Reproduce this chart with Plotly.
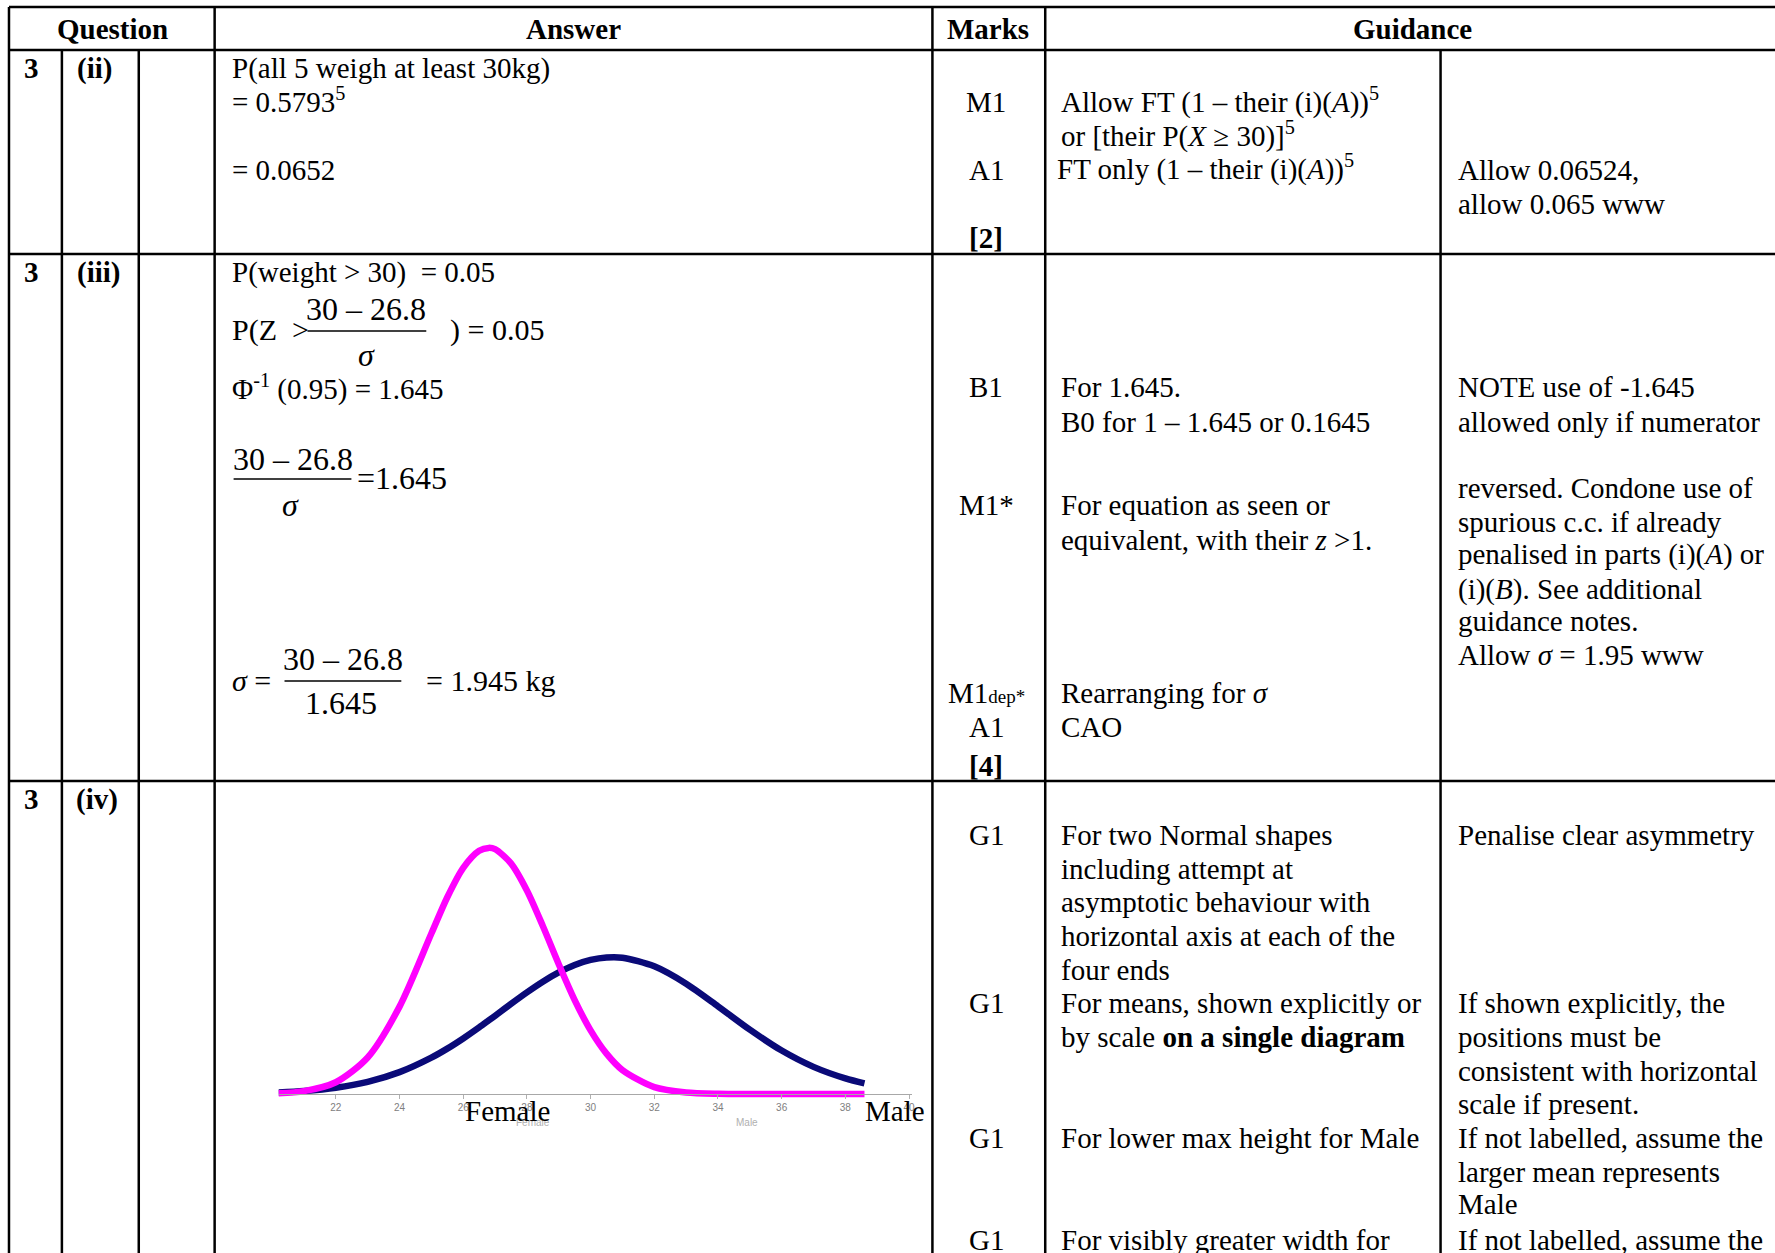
import plotly.graph_objects as go

W, H = 1775, 1253

# ---------------- data ----------------
weight_kg = [20.2, 21, 22, 23, 24, 25, 25.5, 26, 26.5, 26.8, 27, 27.5, 28, 28.5,
             29, 29.5, 30, 30.5, 31, 32, 33, 34, 35, 36, 37, 38, 38.6]
female_height = [0.0006, 0.0024, 0.0098, 0.0304, 0.0728, 0.1337, 0.1640, 0.1885,
                 0.2027, 0.2051, 0.2040, 0.1922, 0.1696, 0.1400, 0.1082, 0.0783,
                 0.0530, 0.0336, 0.0199, 0.0057, 0.0013, 0.0002, 0, 0, 0, 0, 0]
male_height = [0.0013, 0.0025, 0.0052, 0.0101, 0.0182, 0.0303, 0.0378, 0.0463,
               0.0555, 0.0613, 0.0652, 0.0751, 0.0847, 0.0936, 0.1013, 0.1075,
               0.1117, 0.1138, 0.1136, 0.1064, 0.0919, 0.0731, 0.0536, 0.0362,
               0.0226, 0.0130, 0.0089]
tick_values = [22, 24, 26, 28, 30, 32, 34, 36, 38, 40]
curve_labels = ["Female", "Male"]

FONT = "Liberation Serif"
FS = 29


def X(px):
    return px / W


def Y(py):
    return 1 - py / H


fig = go.Figure()

fig.add_trace(go.Scatter(x=weight_kg, y=male_height, mode="lines",
                         line=dict(color="#0a0a78", width=6.5, shape="spline", smoothing=0.8),
                         hoverinfo="skip", showlegend=False))
fig.add_trace(go.Scatter(x=weight_kg, y=female_height, mode="lines",
                         line=dict(color="#ff00ff", width=6.5, shape="spline", smoothing=0.8),
                         hoverinfo="skip", showlegend=False))

shapes = []


def hline(y, x0, x1, w=2.5):
    shapes.append(dict(type="line", xref="paper", yref="paper", x0=X(x0), x1=X(x1),
                       y0=Y(y), y1=Y(y), line=dict(color="black", width=w)))


def vline(x, y0, y1, w=2.5):
    shapes.append(dict(type="line", xref="paper", yref="paper", x0=X(x), x1=X(x),
                       y0=Y(y0), y1=Y(y1), line=dict(color="black", width=w)))


# table grid
for yy in (7, 50, 254, 781):
    hline(yy, 9, W + 5)
vline(9, 7, H + 5)
vline(62, 50, H + 5)
vline(139, 50, H + 5)
vline(215, 7, H + 5)
vline(934, 7, H + 5)
vline(1047, 7, H + 5)
vline(1443, 50, H + 5)

# fraction bars
hline(331, 308, 427, 1.5)
hline(479, 234, 352, 1.5)
hline(681, 285, 402, 1.5)

ann = []


def txt(x, y, s, anchor="left", size=FS, color="black"):
    ann.append(dict(x=X(x), y=Y(y), xref="paper", yref="paper", text=s, showarrow=False,
                    xanchor=anchor, yanchor="middle",
                    font=dict(family=FONT, size=size, color=color)))


# headers
txt(113, 29, "<b>Question</b>", "center")
txt(574, 29, "<b>Answer</b>", "center")
txt(990, 29, "<b>Marks</b>", "center")
txt(1415, 29, "<b>Guidance</b>", "center")

# row (ii)
txt(32, 68, "<b>3</b>", "center")
txt(95, 68, "<b>(ii)</b>", "center")
txt(230, 68, "P(all 5 weigh at least 30kg)")
txt(230, 100, "= 0.5793<sup>5</sup>")
txt(230, 170, "= 0.0652")
txt(988, 102, "M1", "center")
txt(988, 170, "A1", "center")
txt(988, 238, "<b>[2]</b>", "center")
txt(1061, 100, "Allow FT (1 – their (i)(<i>A</i>))<sup>5</sup>")
txt(1061, 134, "or [their P(<i>X</i> ≥ 30)]<sup>5</sup>")
txt(1057, 168, "FT only (1 – their (i)(<i>A</i>))<sup>5</sup>")
txt(1458, 170, "Allow 0.06524,")
txt(1458, 204, "allow 0.065 www")

# row (iii)
txt(32, 272, "<b>3</b>", "center")
txt(99, 272, "<b>(iii)</b>", "center")
txt(230, 272, "P(weight > 30)\u00a0 = 0.05")
txt(230, 330, "P(Z\u00a0 >", size=30)
txt(367, 309, "30 – 26.8", "center", size=32)
txt(367, 355, "<i>σ</i>", "center", size=32)
txt(449, 330, ") = 0.05", size=30)
txt(230, 387, "Φ<sup>-1</sup> (0.95) = 1.645")
txt(293, 459, "30 – 26.8", "center", size=32)
txt(291, 505, "<i>σ</i>", "center", size=32)
txt(356, 478, "=1.645", size=32)
txt(230, 680, "<i>σ</i> =", size=30)
txt(344, 659, "30 – 26.8", "center", size=32)
txt(342, 703, "1.645", "center", size=32)
txt(425, 680, "= 1.945 kg", size=30)
txt(988, 387, "B1", "center")
txt(988, 505, "M1*", "center")
txt(988, 693, "M1<span style='font-size:19px'>dep*</span>", "center")
txt(988, 727, "A1", "center")
txt(988, 766, "<b>[4]</b>", "center")
txt(1061, 387, "For 1.645.")
txt(1061, 422, "B0 for 1 – 1.645 or 0.1645")
txt(1061, 505, "For equation as seen or")
txt(1061, 540, "equivalent, with their <i>z</i> >1.")
txt(1061, 693, "Rearranging for <i>σ</i>")
txt(1061, 727, "CAO")
g2 = [(387, "NOTE use of -1.645"), (422, "allowed only if numerator"),
      (488, "reversed. Condone use of"), (522, "spurious c.c. if already"),
      (555, "penalised in parts (i)(<i>A</i>) or"), (589, "(i)(<i>B</i>). See additional"),
      (621, "guidance notes."), (655, "Allow <i>σ</i> = 1.95 www")]
for yy, s in g2:
    txt(1458, yy, s)

# row (iv)
txt(32, 799, "<b>3</b>", "center")
txt(97, 799, "<b>(iv)</b>", "center")
for yy in (835, 1003, 1138, 1240):
    txt(988, yy, "G1", "center")
g1 = [(835, "For two Normal shapes"), (869, "including attempt at"),
      (902, "asymptotic behaviour with"), (936, "horizontal axis at each of the"),
      (970, "four ends"), (1003, "For means, shown explicitly or"),
      (1037, "by scale <b>on a single diagram</b>"), (1138, "For lower max height for Male"),
      (1240, "For visibly greater width for")]
for yy, s in g1:
    txt(1061, yy, s)
g3 = [(835, "Penalise clear asymmetry"), (1003, "If shown explicitly, the"),
      (1037, "positions must be"), (1071, "consistent with horizontal"),
      (1104, "scale if present."), (1138, "If not labelled, assume the"),
      (1172, "larger mean represents"), (1204, "Male"),
      (1240, "If not labelled, assume the")]
for yy, s in g3:
    txt(1458, yy, s)

# faint labels from the pasted chart image
ann.append(dict(x=28.2, y=-0.024, xref="x", yref="y", text=curve_labels[0], showarrow=False,
                xanchor="center", yanchor="middle",
                font=dict(family="Liberation Sans", size=10, color="#b0b0b0")))
ann.append(dict(x=34.9, y=-0.024, xref="x", yref="y", text=curve_labels[1], showarrow=False,
                xanchor="center", yanchor="middle",
                font=dict(family="Liberation Sans", size=10, color="#b0b0b0")))
# chart labels
txt(508, 1111, curve_labels[0], "center")
txt(864, 1111, curve_labels[1])

y_bottom_px = 1094 + 0.03 * 1200
y_top_px = 1094 - 0.25 * 1200
x_left_px = 272.6 + 0.2 * 31.9
x_right_px = 272.6 + 20.1 * 31.9

fig.update_layout(
    width=W, height=H,
    margin=dict(l=0, r=0, t=0, b=0),
    paper_bgcolor="white", plot_bgcolor="rgba(0,0,0,0)",
    shapes=shapes, annotations=ann,
    xaxis=dict(domain=[X(x_left_px), X(x_right_px)], range=[20.2, 40.1],
               anchor="free", position=Y(1094),
               showline=True, linecolor="#a8a8a8", linewidth=1,
               tickvals=tick_values, ticks="outside", ticklen=4, tickcolor="#b0b0b0",
               tickfont=dict(family="Liberation Sans", size=10, color="#808080"),
               showgrid=False, zeroline=False, fixedrange=True),
    yaxis=dict(domain=[Y(y_bottom_px), Y(y_top_px)], range=[-0.03, 0.25],
               visible=False, showgrid=False, zeroline=False, fixedrange=True),
    showlegend=False,
)

fig.write_html("out.html", config={"displayModeBar": False},
               post_script="document.body.style.margin='0';document.body.style.overflow='hidden';")
